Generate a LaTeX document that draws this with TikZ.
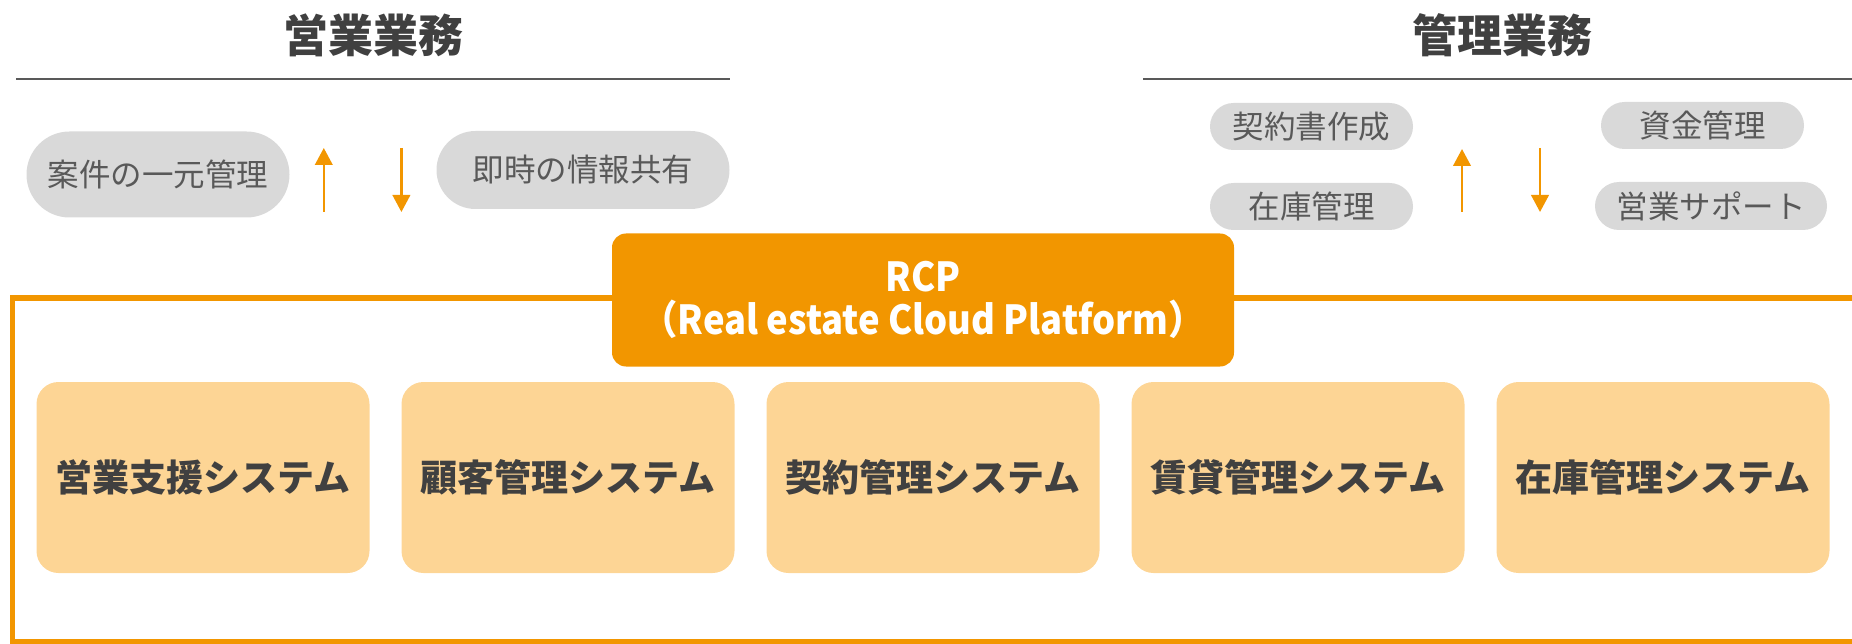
\documentclass[tikz,border=0pt]{standalone}
\usepackage{fontspec}
\setmainfont{Noto Sans CJK JP}
\newfontfamily\rcpfont[FakeStretch=0.91]{Noto Sans CJK JP}
\usetikzlibrary{arrows.meta}
\definecolor{rorange}{RGB}{242,150,0}
\definecolor{rlight}{RGB}{253,213,149}
\definecolor{rgrayfill}{RGB}{217,217,217}
\definecolor{rdark}{RGB}{64,64,64}
\definecolor{rmid}{RGB}{89,89,89}
\begin{document}
\begin{tikzpicture}[x=1pt,y=-1pt,
 title/.style={font=\fontsize{45}{54}\selectfont\bfseries, text=rdark, inner sep=0},
 pill/.style={fill=rgrayfill, text=rmid, font=\fontsize{31.5}{38}\selectfont, inner sep=0},
 sysbox/.style={fill=rlight, rounded corners=22, minimum width=333, minimum height=191, inner sep=0, text=rdark, font=\fontsize{37}{44}\selectfont\bfseries},
 rcpbox/.style={fill=rorange, rounded corners=14, minimum width=622, minimum height=133, inner sep=0, text=white, align=center, font=\rcpfont\fontsize{40}{43}\selectfont\bfseries},
 arr/.style={draw=rorange, line width=2.5, -{Triangle[width=17.5, length=17]}},
 rule/.style={draw=rmid, line width=2},
 frame/.style={draw=rorange, line width=5},
]
\useasboundingbox (0,0) rectangle (1852,644);

% titles and rules
\node[title] (t1) at (373,35) {営業業務};
\node[title] (t2) at (1502,35) {管理業務};
\coordinate (l1a) at (16,79.5);
\coordinate (l1b) at (730,79.5);
\coordinate (l2a) at (1143,79.5);
\coordinate (l2b) at (1860,79.5);
\draw[rule] (l1a) -- (l1b);
\draw[rule] (l2a) -- (l2b);

% left pills
\node[pill, minimum width=263, minimum height=86, rounded corners=43] (p1) at (158,174.5) {案件の一元管理};
\node[pill, minimum width=293, minimum height=78, rounded corners=39] (p2) at (583,170) {即時の情報共有};
\coordinate (a1s) at (323.8,212);
\coordinate (a1e) at (323.8,148);
\coordinate (a2s) at (401.4,148);
\coordinate (a2e) at (401.4,212);
\draw[arr] (a1s) -- (a1e);
\draw[arr] (a2s) -- (a2e);

% right pills
\node[pill, minimum width=203, minimum height=47, rounded corners=23.5] (q1) at (1311.5,126.5) {契約書作成};
\node[pill, minimum width=203, minimum height=47, rounded corners=23.5] (q2) at (1311.5,206.5) {在庫管理};
\node[pill, minimum width=203, minimum height=47, rounded corners=23.5] (q3) at (1702.5,125.5) {資金管理};
\node[pill, minimum width=232, minimum height=48, rounded corners=24] (q4) at (1711,206) {営業サポート};
\coordinate (b1s) at (1462,212);
\coordinate (b1e) at (1462,149);
\coordinate (b2s) at (1540,148);
\coordinate (b2e) at (1540,212);
\draw[arr] (b1s) -- (b1e);
\draw[arr] (b2s) -- (b2e);

% frame
\draw[frame] (1860,298) -- (12,298) -- (12,641.5) -- (1860,641.5);

% RCP
\node[rcpbox] (rcp) at (923,300) {RCP\\（Real estate Cloud Platform）};

% systems
\node[sysbox] (s1) at (203,477.5) {営業支援システム};
\node[sysbox] (s2) at (568,477.5) {顧客管理システム};
\node[sysbox] (s3) at (933,477.5) {契約管理システム};
\node[sysbox] (s4) at (1298,477.5) {賃貸管理システム};
\node[sysbox] (s5) at (1663,477.5) {在庫管理システム};
\end{tikzpicture}
\end{document}
